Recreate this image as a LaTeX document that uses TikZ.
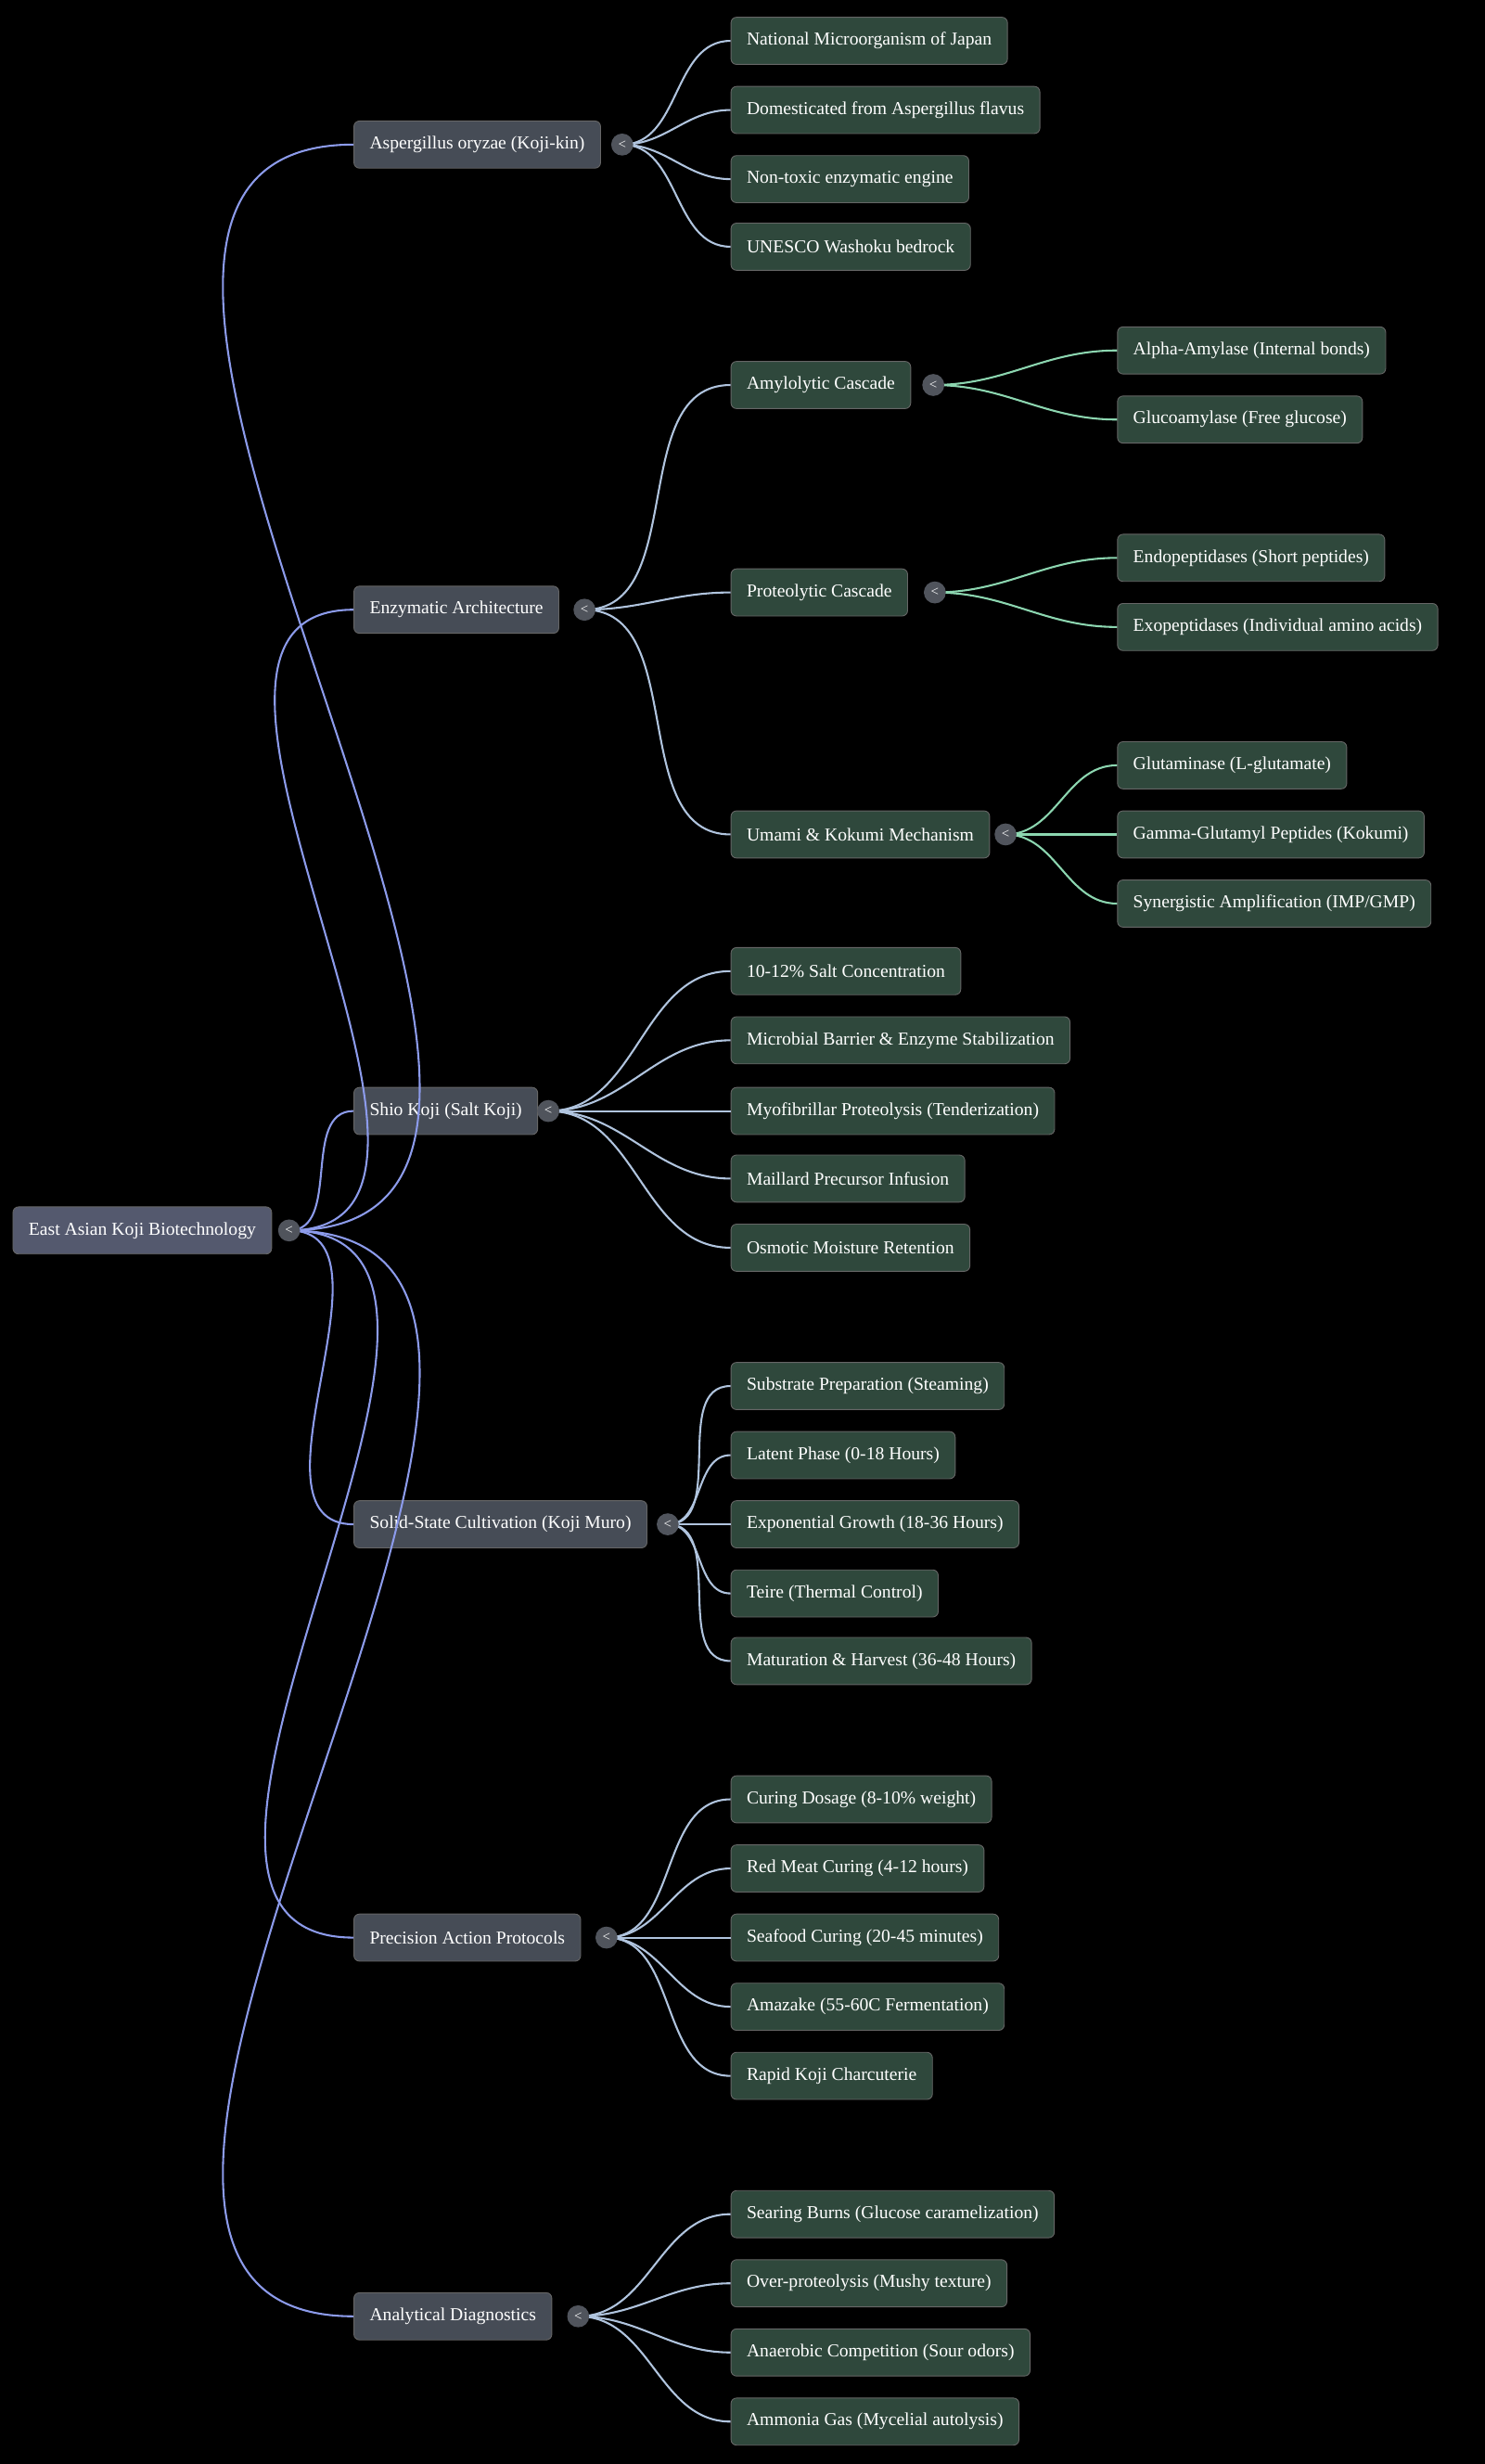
\documentclass[tikz,border=0pt]{standalone}
\usepackage{fontspec}
\setmainfont{Liberation Serif}
\definecolor{root-fill}{RGB}{84, 89, 110}
\definecolor{branch-fill}{RGB}{70, 76, 86}
\definecolor{leaf-fill}{RGB}{47, 72, 60}
\definecolor{link-violet}{RGB}{140, 155, 235}
\definecolor{link-blue}{RGB}{176, 196, 222}
\definecolor{link-green}{RGB}{140, 214, 176}
\definecolor{knob-fill}{RGB}{80, 84, 92}
\tikzset{
  box/.style={anchor=west, rounded corners=2pt, text=white, draw=black!60, line width=0.3pt,
    minimum height=0.6cm, inner xsep=0.2cm, font=\fontsize{6.6}{8}\selectfont},
  root/.style={box, fill=root-fill},
  branch/.style={box, fill=branch-fill},
  leaf/.style={box, fill=leaf-fill},
  knob/.style={circle, fill=knob-fill, inner sep=0pt, minimum size=0.28cm, text=white!80,
    font=\fontsize{5}{5}\selectfont},
  link/.style={line width=0.7pt, out=0, in=180}
}
\begin{document}
\begin{tikzpicture}[x=0.02cm, y=-0.02cm]
\fill[black] (0,0) rectangle (945,1568);
\useasboundingbox (0,0) rectangle (945,1568);
% root and main branches
\node[root] (koji) at (8,783) {East Asian Koji Biotechnology};
\node[branch] (asp) at (225,92) {Aspergillus oryzae (Koji-kin)};
\node[branch] (enz) at (225,388) {Enzymatic Architecture};
\node[branch] (shio) at (225,707) {Shio Koji (Salt Koji)};
\node[branch] (muro) at (225,970) {Solid-State Cultivation (Koji Muro)};
\node[branch] (prot) at (225,1233) {Precision Action Protocols};
\node[branch] (diag) at (225,1474) {Analytical Diagnostics};
\coordinate (koji-k) at (184,783);
\foreach \b in {asp,enz,shio,muro,prot,diag}
  \draw[link-violet, link] (koji-k) to (\b.west);
% enzyme cascades
\node[leaf] (amyl) at (465,245) {Amylolytic Cascade};
\node[leaf] (prteo) at (465,377) {Proteolytic Cascade};
\node[leaf] (umami) at (465,531) {Umami \& Kokumi Mechanism};
\coordinate (enz-k) at (372,388);
\foreach \b in {amyl,prteo,umami}
  \draw[link-blue, link] (enz-k) to (\b.west);
% leaves of the main branches
\coordinate (asp-k) at (396,92);
\foreach \y/\t [count=\i] in {26/{National Microorganism of Japan},70/{Domesticated from Aspergillus flavus},
    114/{Non-toxic enzymatic engine},157/{UNESCO Washoku bedrock}}{
  \node[leaf] (asp-\i) at (465,\y) {\t};
  \draw[link-blue, link] (asp-k) to (asp-\i.west);
}
\coordinate (shio-k) at (349,707);
\foreach \y/\t [count=\i] in {618/{10-12\% Salt Concentration},662/{Microbial Barrier \& Enzyme Stabilization},
    707/{Myofibrillar Proteolysis (Tenderization)},750/{Maillard Precursor Infusion},794/{Osmotic Moisture Retention}}{
  \node[leaf] (shio-\i) at (465,\y) {\t};
  \draw[link-blue, link] (shio-k) to (shio-\i.west);
}
\coordinate (muro-k) at (425,970);
\foreach \y/\t [count=\i] in {882/{Substrate Preparation (Steaming)},926/{Latent Phase (0-18 Hours)},
    970/{Exponential Growth (18-36 Hours)},1014/{Teire (Thermal Control)},1057/{Maturation \& Harvest (36-48 Hours)}}{
  \node[leaf] (muro-\i) at (465,\y) {\t};
  \draw[link-blue, link] (muro-k) to (muro-\i.west);
}
\coordinate (prot-k) at (386,1233);
\foreach \y/\t [count=\i] in {1145/{Curing Dosage (8-10\% weight)},1189/{Red Meat Curing (4-12 hours)},
    1233/{Seafood Curing (20-45 minutes)},1277/{Amazake (55-60C Fermentation)},1321/{Rapid Koji Charcuterie}}{
  \node[leaf] (prot-\i) at (465,\y) {\t};
  \draw[link-blue, link] (prot-k) to (prot-\i.west);
}
\coordinate (diag-k) at (368,1474);
\foreach \y/\t [count=\i] in {1409/{Searing Burns (Glucose caramelization)},1453/{Over-proteolysis (Mushy texture)},
    1497/{Anaerobic Competition (Sour odors)},1541/{Ammonia Gas (Mycelial autolysis)}}{
  \node[leaf] (diag-\i) at (465,\y) {\t};
  \draw[link-blue, link] (diag-k) to (diag-\i.west);
}
% enzymes
\coordinate (amyl-k) at (594,245);
\foreach \y/\t [count=\i] in {223/{Alpha-Amylase (Internal bonds)},267/{Glucoamylase (Free glucose)}}{
  \node[leaf] (amyl-\i) at (711,\y) {\t};
  \draw[link-green, link] (amyl-k) to (amyl-\i.west);
}
\coordinate (prteo-k) at (595,377);
\foreach \y/\t [count=\i] in {355/{Endopeptidases (Short peptides)},399/{Exopeptidases (Individual amino acids)}}{
  \node[leaf] (prteo-\i) at (711,\y) {\t};
  \draw[link-green, link] (prteo-k) to (prteo-\i.west);
}
\coordinate (umami-k) at (640,531);
\foreach \y/\t [count=\i] in {487/{Glutaminase (L-glutamate)},531/{Gamma-Glutamyl Peptides (Kokumi)},
    575/{Synergistic Amplification (IMP/GMP)}}{
  \node[leaf] (umami-\i) at (711,\y) {\t};
  \draw[link-green, link] (umami-k) to (umami-\i.west);
}
% collapse knobs
\foreach \k in {koji,asp,enz,shio,muro,prot,diag,amyl,prteo,umami}
  \node[knob] at (\k-k) {<};
\end{tikzpicture}
\end{document}
